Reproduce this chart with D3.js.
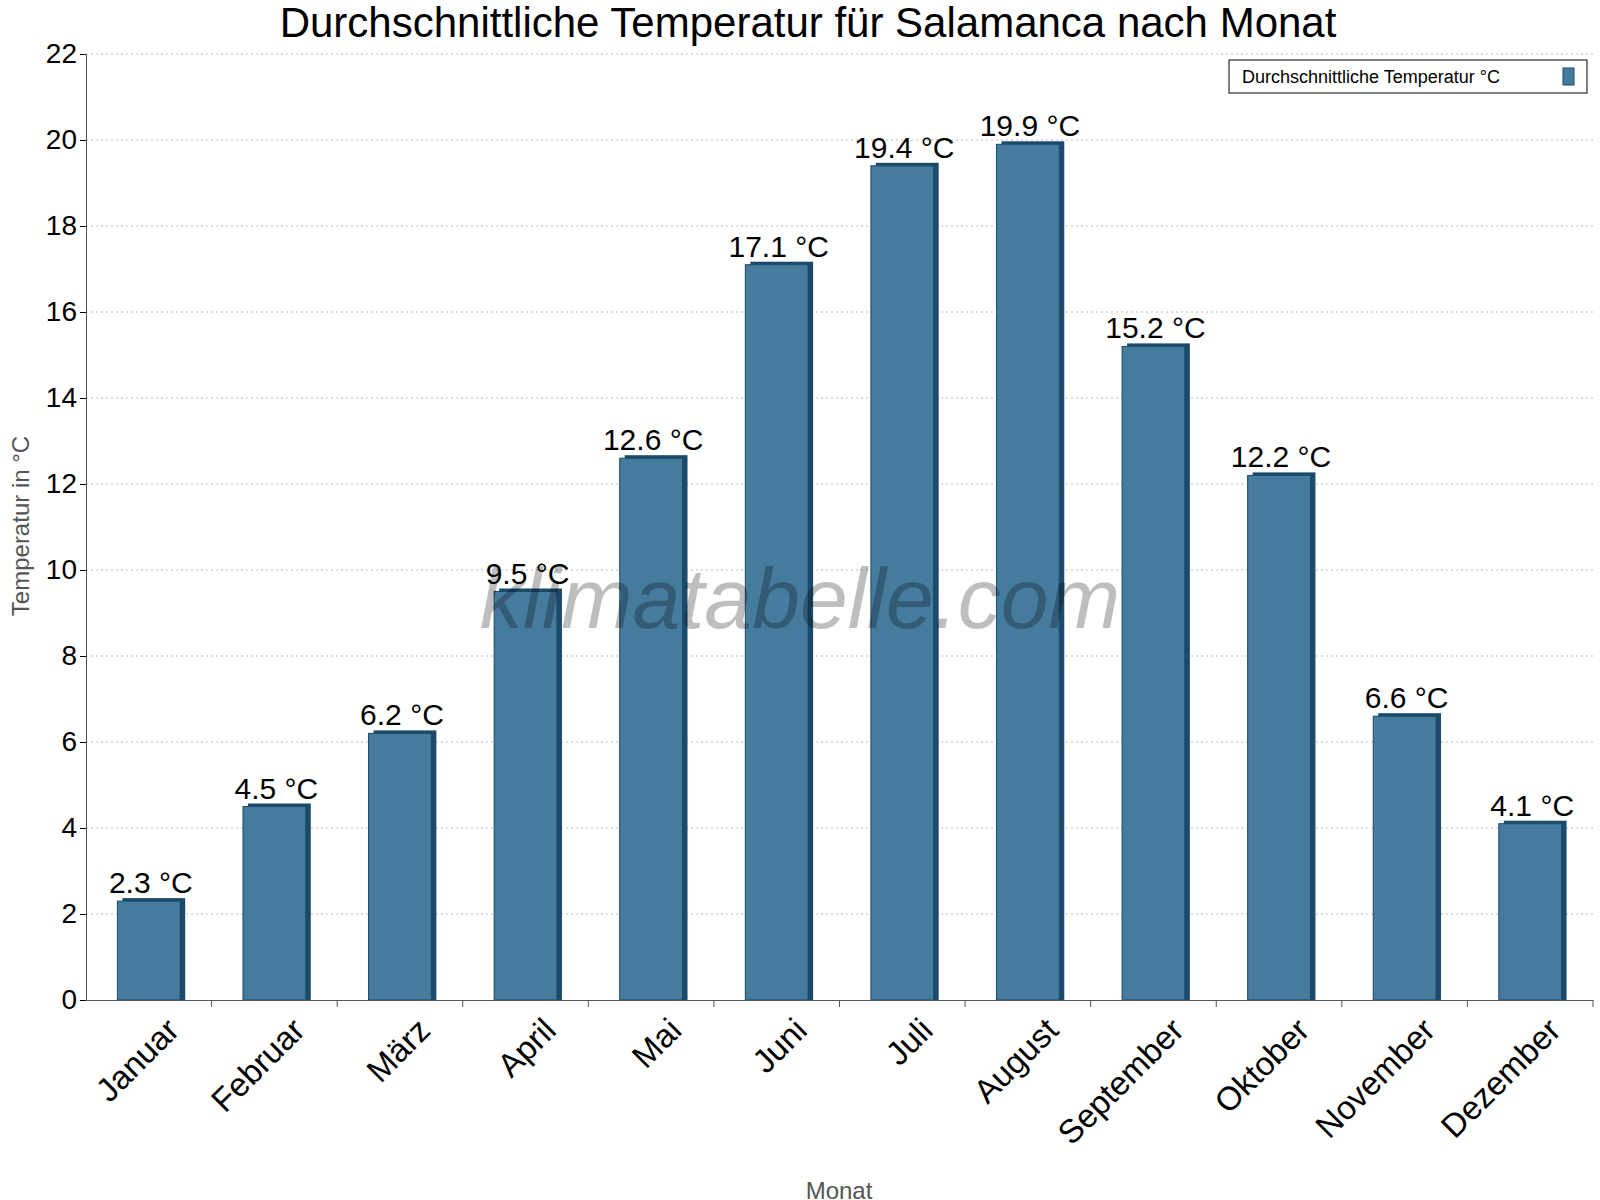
<!DOCTYPE html>
<html><head><meta charset="utf-8">
<script src="https://cdn.jsdelivr.net/npm/d3@7"></script>
<style>body{margin:0;background:#fff;font-family:Arial,"Liberation Sans",sans-serif}</style>
</head><body><div id="chart"></div>
<script>
var months = ["Januar","Februar","März","April","Mai","Juni","Juli","August","September","Oktober","November","Dezember"];
var temps = [2.3, 4.5, 6.2, 9.5, 12.6, 17.1, 19.4, 19.9, 15.2, 12.2, 6.6, 4.1];
var yTicks = [0,2,4,6,8,10,12,14,16,18,20,22];

var margin = {top: 54, right: 7, bottom: 200, left: 86},
    width = 1600 - margin.left - margin.right,
    height = 1200 - margin.top - margin.bottom;

var svg = d3.select("#chart").append("svg")
    .attr("width", 1600).attr("height", 1200)
    .style("font-family", "Arial, 'Liberation Sans', sans-serif");
var g = svg.append("g").attr("transform", "translate(" + margin.left + "," + margin.top + ")");

var x = d3.scaleBand().domain(months).range([0, width]).paddingInner(0.5).paddingOuter(0.25);
var y = d3.scaleLinear().domain([0, 22]).range([height, 0]);

// grid
g.selectAll(".grid").data(yTicks.slice(1)).enter().append("line")
  .attr("x1", 0).attr("x2", width)
  .attr("y1", function(d){ return y(d); }).attr("y2", function(d){ return y(d); })
  .attr("stroke", "#bbb").attr("stroke-dasharray", "2,3");

// watermark
svg.append("text").attr("x", 800).attr("y", 628).attr("text-anchor", "middle")
  .style("font-size", "86px").style("font-style", "italic").attr("fill", "#000").attr("opacity", 0.25)
  .text("klimatabelle.com");

// bars with 3D edge
var d3o = 5;
var bars = g.selectAll(".bar").data(temps).enter().append("g");
bars.append("rect")
  .attr("x", function(d,i){ return x(months[i]) + d3o; })
  .attr("y", function(d){ return y(d) - 3; })
  .attr("width", x.bandwidth()).attr("height", function(d){ return height - y(d) + 3; })
  .attr("fill", "#1b4a6b");
bars.append("rect")
  .attr("x", function(d,i){ return x(months[i]); })
  .attr("y", function(d){ return y(d); })
  .attr("width", x.bandwidth()).attr("height", function(d){ return height - y(d); })
  .attr("fill", "#457b9d").attr("stroke", "#1b4a6b").attr("stroke-width", 1);
bars.append("text")
  .attr("x", function(d,i){ return x(months[i]) + x.bandwidth()/2 + 2; })
  .attr("y", function(d){ return y(d) - 8; })
  .attr("text-anchor", "middle").style("font-size", "30px")
  .text(function(d){ return d.toFixed(1) + " °C"; });

// axes
var ya = g.append("g").call(d3.axisLeft(y).tickValues(yTicks).tickSize(6).tickSizeOuter(0));
ya.selectAll("text").style("font-size", "28px").attr("fill", "#000");
ya.select(".domain").attr("stroke", "#555");

var xa = g.append("g").attr("transform", "translate(0," + height + ")")
  .call(d3.axisBottom(x).tickSize(0).tickSizeOuter(0));
xa.select(".domain").attr("stroke", "#555");
xa.selectAll("text").style("font-size", "33px").attr("fill", "#000")
  .attr("text-anchor", "end").attr("dx", "0").attr("dy", "0.35em")
  .attr("transform", "translate(22,22) rotate(-45)");
g.selectAll(".xt").data(d3.range(1, 13)).enter().append("line")
  .attr("x1", function(i){ return i * width / 12; }).attr("x2", function(i){ return i * width / 12; })
  .attr("y1", height).attr("y2", height + 7).attr("stroke", "#555");

// titles
svg.append("text").attr("x", 808).attr("y", 37).attr("text-anchor", "middle")
  .style("font-size", "42px").text("Durchschnittliche Temperatur für Salamanca nach Monat");
svg.append("text").attr("transform", "translate(29,526) rotate(-90)").attr("text-anchor", "middle")
  .style("font-size", "24px").attr("fill", "#555").text("Temperatur in °C");
svg.append("text").attr("x", 839).attr("y", 1199).attr("text-anchor", "middle")
  .style("font-size", "24px").attr("fill", "#555").text("Monat");

// legend
var lg = svg.append("g").attr("transform", "translate(1229,60)");
lg.append("rect").attr("width", 358).attr("height", 33).attr("fill", "#fff").attr("stroke", "#000");
lg.append("text").attr("x", 13).attr("y", 23).style("font-size", "18px").text("Durchschnittliche Temperatur °C");
lg.append("rect").attr("x", 334).attr("y", 8).attr("width", 11).attr("height", 17)
  .attr("fill", "#457b9d").attr("stroke", "#1b4a6b");
</script></body></html>
